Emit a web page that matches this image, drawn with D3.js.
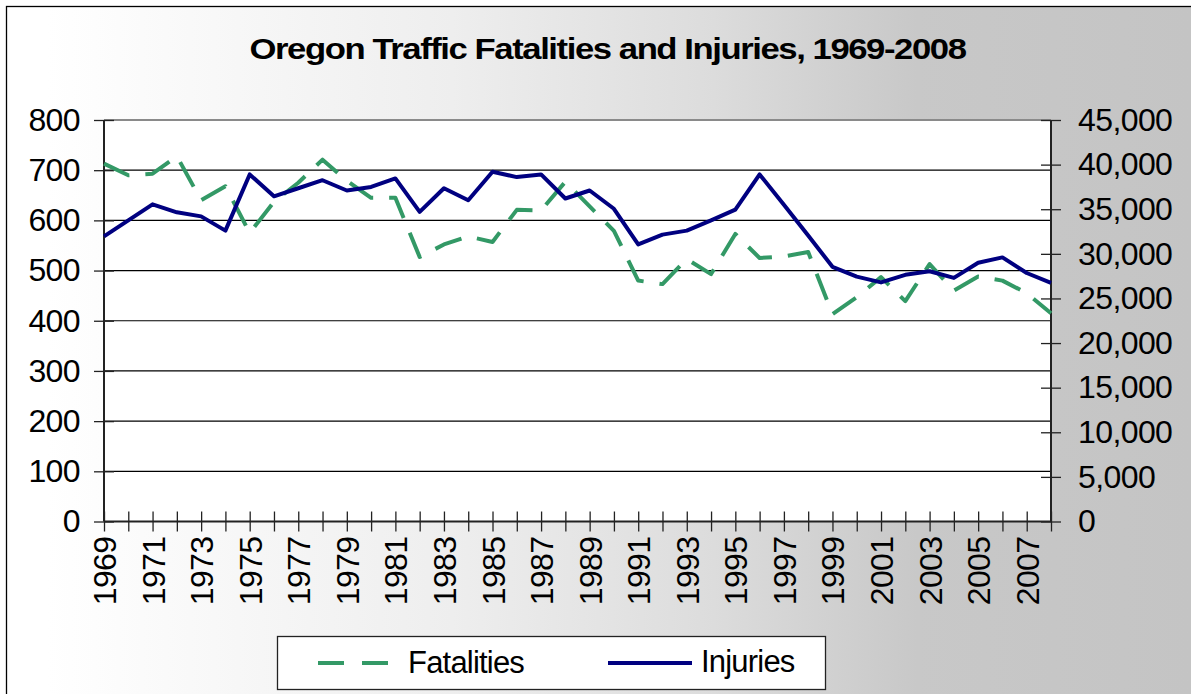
<!DOCTYPE html>
<html><head><meta charset="utf-8">
<script src="https://cdn.jsdelivr.net/npm/d3@7"></script>
<style>html,body{margin:0;padding:0;background:#fff;}svg{display:block;font-family:"Liberation Sans",Arial,sans-serif;}</style>
</head><body>
<svg id="chart" width="1191" height="694"></svg>
<script>
const titleText = "Oregon Traffic Fatalities and Injuries, 1969-2008";
const years = d3.range(1969, 2009);
const fatalities = [713,690,693,728,640,668,575,637,675,721,679,645,645,527,552,568,557,621,620,677,628,579,480,473,523,493,573,525,528,537,413,447,487,439,513,460,488,480,455,415];
const injuries = [31950,33750,35550,34650,34200,32600,38900,36450,37350,38250,37100,37500,38450,34700,37350,36000,39200,38600,38900,36200,37100,35050,31050,32150,32600,33750,34950,38900,35500,32050,28550,27450,26800,27650,28050,27300,29000,29600,27850,26750];
const leftTicks = [0,100,200,300,400,500,600,700,800];
const rightTicks = [0,5000,10000,15000,20000,25000,30000,35000,40000,45000];
const seriesNames = ["Fatalities","Injuries"];

const svg = d3.select("#chart");
const defs = svg.append("defs");
const grad = defs.append("linearGradient").attr("id","bg").attr("gradientUnits","userSpaceOnUse")
  .attr("x1",0).attr("y1",0).attr("x2",1191).attr("y2",0);
[[0,"#ffffff"],[0.04,"#ffffff"],[0.38,"#eeeeee"],[0.6,"#dcdcdc"],[0.77,"#c8c8c8"],[1,"#c4c4c4"]]
  .forEach(([o,c])=>grad.append("stop").attr("offset",o).attr("stop-color",c));

// chart area
svg.append("rect").attr("x",6.5).attr("y",6.5).attr("width",1200).attr("height",700)
  .attr("fill","url(#bg)").attr("stroke","#000").attr("stroke-width",1.3);

const L = 104, R = 1051, T = 120, B = 521.5;
const x = d3.scalePoint().domain(years).range([L, R]);
const yL = d3.scaleLinear().domain([0,800]).range([B, T]);
const yR = d3.scaleLinear().domain([0,45000]).range([B, T]);

// plot area
svg.append("rect").attr("x",L).attr("y",T).attr("width",R-L).attr("height",B-T).attr("fill","#fff");

// gridlines
svg.append("g").selectAll("line").data(leftTicks.filter(d=>d>0)).join("line")
  .attr("x1",L).attr("x2",R).attr("y1",d=>yL(d)).attr("y2",d=>yL(d))
  .attr("stroke",d=>d===800?"#8a8a8a":"#000").attr("stroke-width",d=>d===800?2:1.2);

// axes
const fontSize = 32;
const gL = svg.append("g").attr("transform",`translate(${L},0)`)
  .call(d3.axisLeft(yL).tickValues(leftTicks).tickFormat(d3.format("d")).tickSize(10).tickPadding(14));
gL.selectAll(".tick line").attr("x1",-10).attr("x2",10);
const gR = svg.append("g").attr("transform",`translate(${R},0)`)
  .call(d3.axisRight(yR).tickValues(rightTicks).tickFormat(d3.format(",")).tickSize(10).tickPadding(17));
gR.selectAll(".tick line").attr("x1",-10).attr("x2",10);
const gB = svg.append("g").attr("transform",`translate(0,${B})`)
  .call(d3.axisBottom(x).tickValues(years).tickFormat(d=>((d-1969)%2===0?String(d):"")).tickSize(10));
gB.selectAll(".tick line").attr("y1",-10).attr("y2",10);
gB.selectAll(".tick text").attr("transform","rotate(-90)").attr("x",-15).attr("y",0)
  .attr("dy","0.36em").style("text-anchor","end");

[gL,gR,gB].forEach(g=>{
  g.select(".domain").attr("stroke","#222").attr("stroke-width",2);
  g.selectAll(".tick line").attr("stroke","#222").attr("stroke-width",1.3);
  g.selectAll(".tick text").attr("fill","#000").style("font-size",fontSize+"px")
    .style("font-family","'Liberation Sans',Arial,sans-serif").style("letter-spacing","-0.6px");
});
gL.select(".domain").attr("d",`M0,${B}V${T}`);
gR.select(".domain").attr("d",`M0,${B}V${T}`);
gB.select(".domain").attr("d",`M${L},0H${R}`);

// lines
const lineF = d3.line().x((d,i)=>x(years[i])).y(d=>yL(d));
const lineI = d3.line().x((d,i)=>x(years[i])).y(d=>yR(d));
svg.append("path").datum(fatalities).attr("d",lineF).attr("fill","none")
  .attr("stroke","#339966").attr("stroke-width",4).attr("stroke-dasharray","28,16").attr("stroke-linejoin","round");
svg.append("path").datum(injuries).attr("d",lineI).attr("fill","none")
  .attr("stroke","#000080").attr("stroke-width",4).attr("stroke-linejoin","round");

// title
svg.append("text").attr("x",607.5).attr("y",59).attr("text-anchor","middle")
  .attr("font-weight","bold").attr("font-size",29).attr("fill","#000")
  .attr("textLength",716).attr("lengthAdjust","spacingAndGlyphs").style("letter-spacing","-1.2px").text(titleText);

// legend
const lg = svg.append("g");
lg.append("rect").attr("x",277.5).attr("y",636.5).attr("width",548).attr("height",53)
  .attr("fill","#fff").attr("stroke","#222").attr("stroke-width",1.3);
lg.append("line").attr("x1",318).attr("x2",390).attr("y1",663).attr("y2",663)
  .attr("stroke","#339966").attr("stroke-width",4).attr("stroke-dasharray","26,18");
lg.append("text").attr("x",408).attr("y",673).attr("font-size",31).attr("fill","#000")
  .style("letter-spacing","-0.8px").text(seriesNames[0]);
lg.append("line").attr("x1",608).attr("x2",692).attr("y1",663).attr("y2",663)
  .attr("stroke","#000080").attr("stroke-width",4);
lg.append("text").attr("x",701).attr("y",672).attr("font-size",31).attr("fill","#000")
  .style("letter-spacing","-0.8px").text(seriesNames[1]);
</script>
</body></html>
